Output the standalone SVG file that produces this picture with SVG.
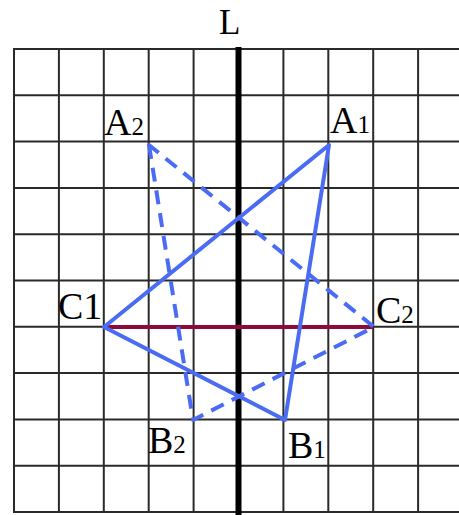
<svg xmlns="http://www.w3.org/2000/svg" width="459" height="515" viewBox="0 0 459 515">
<style>
.grid line{stroke:#2a2a2a;stroke-width:2}
.axis{stroke:#000;stroke-width:6}
.solid{fill:none;stroke:#4a6cf2;stroke-width:4;stroke-linejoin:round;stroke-linecap:round}
.dash{fill:none;stroke:#4a6cf2;stroke-width:4;stroke-dasharray:14 9;stroke-linejoin:round}
.seg{stroke:#8e0a3a;stroke-width:4}
text{font-family:"Liberation Serif","DejaVu Serif",serif;fill:#000}
.big{font-size:38px}
.sub{font-size:25px}
</style>
<rect width="459" height="515" fill="#fff"/>
<g class="grid" id="grid">
<line x1="14" y1="49" x2="14" y2="512"/>
<line x1="58.9" y1="49" x2="58.9" y2="512"/>
<line x1="103.8" y1="49" x2="103.8" y2="512"/>
<line x1="148.7" y1="49" x2="148.7" y2="512"/>
<line x1="193.6" y1="49" x2="193.6" y2="512"/>
<line x1="283.4" y1="49" x2="283.4" y2="512"/>
<line x1="328.3" y1="49" x2="328.3" y2="512"/>
<line x1="373.2" y1="49" x2="373.2" y2="512"/>
<line x1="418.1" y1="49" x2="418.1" y2="512"/>
<line x1="13" y1="49" x2="459" y2="49"/>
<line x1="13" y1="95.3" x2="459" y2="95.3"/>
<line x1="13" y1="141.6" x2="459" y2="141.6"/>
<line x1="13" y1="187.9" x2="459" y2="187.9"/>
<line x1="13" y1="234.2" x2="459" y2="234.2"/>
<line x1="13" y1="280.5" x2="459" y2="280.5"/>
<line x1="13" y1="326.8" x2="459" y2="326.8"/>
<line x1="13" y1="373.1" x2="459" y2="373.1"/>
<line x1="13" y1="419.4" x2="459" y2="419.4"/>
<line x1="13" y1="465.7" x2="459" y2="465.7"/>
<line x1="13" y1="512" x2="459" y2="512"/>
</g>
<g id="axis-L">
<line class="axis" x1="238.5" y1="47" x2="238.5" y2="515"/>
<text x="219" y="34" style="font-size:35px">L</text>
</g>
<g id="connectors">
<line class="seg" x1="104" y1="327" x2="373" y2="327"/>
<polygon class="solid" points="329,145 285,420 104,327"/>
<polygon class="dash" points="149,145 193,420 374,327"/>
</g>
<g id="A1"><text x="330" y="133"><tspan class="big">A</tspan><tspan class="sub">1</tspan></text></g>
<g id="A2"><text x="104" y="135"><tspan class="big">A</tspan><tspan class="sub">2</tspan></text></g>
<g id="B1"><text x="288" y="458"><tspan class="big">B</tspan><tspan class="sub">1</tspan></text></g>
<g id="B2"><text x="148" y="453"><tspan class="big">B</tspan><tspan class="sub">2</tspan></text></g>
<g id="C1"><text x="58" y="319"><tspan class="big">C1</tspan></text></g>
<g id="C2"><text x="376" y="323"><tspan class="big">C</tspan><tspan class="sub">2</tspan></text></g>
</svg>
